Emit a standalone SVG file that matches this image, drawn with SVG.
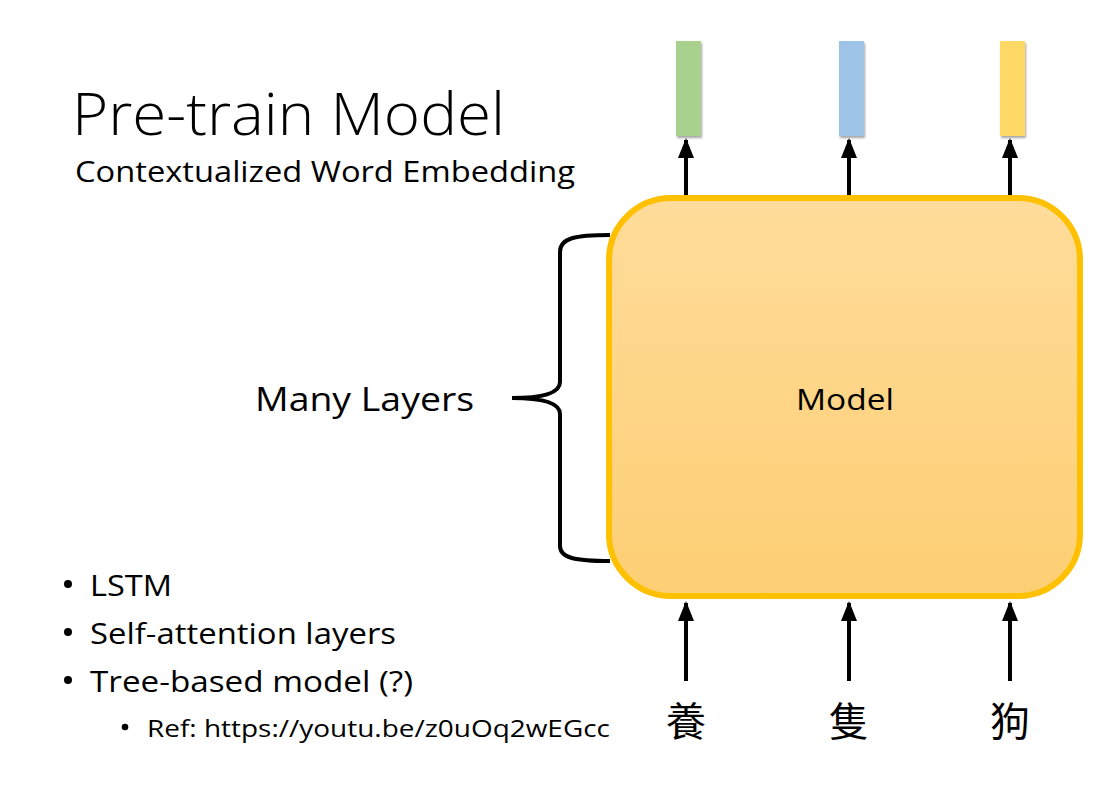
<svg xmlns="http://www.w3.org/2000/svg" width="1097" height="801" viewBox="0 0 1097 801">
<defs>
<linearGradient id="g" x1="0" y1="0" x2="0" y2="1"><stop offset="0" stop-color="#FFDC9A"/><stop offset="1" stop-color="#FDCF74"/></linearGradient>
<marker id="ah" markerWidth="5" markerHeight="4" refX="4.5" refY="2" orient="auto" markerUnits="strokeWidth"><path d="M0,0 L5,2 L0,4 Z" fill="#000"/></marker>
<filter id="sh" x="-30%" y="-10%" width="160%" height="130%"><feDropShadow dx="1" dy="2" stdDeviation="1.2" flood-color="#000" flood-opacity="0.35"/></filter>
</defs>
<style>
text{font-family:"Open Sans","Noto Sans","Liberation Sans",sans-serif;fill:#000}
.cjk{font-family:"Noto Sans CJK TC","Noto Sans CJK SC",sans-serif}
.arr{stroke:#000;stroke-width:4;fill:none;marker-end:url(#ah)}
</style>
<rect width="1097" height="801" fill="#fff"/>
<text x="72" y="135" font-size="58" font-weight="300" textLength="433" lengthAdjust="spacingAndGlyphs">Pre-train Model</text>
<text x="75" y="182" font-size="29" textLength="500" lengthAdjust="spacingAndGlyphs">Contextualized Word Embedding</text>

<g id="model"><rect x="609" y="198" width="471" height="398" rx="62" fill="url(#g)" stroke="#FFC000" stroke-width="6"/>
<text x="845" y="410" font-size="30" text-anchor="middle" textLength="98" lengthAdjust="spacingAndGlyphs">Model</text></g>

<g id="out1"><rect x="676" y="41" width="25" height="95" fill="#A9D18E" filter="url(#sh)"/></g>
<g id="out2"><rect x="839" y="41" width="25" height="95" fill="#9DC3E6" filter="url(#sh)"/></g>
<g id="out3"><rect x="1000" y="41" width="25" height="95" fill="#FFD966" filter="url(#sh)"/></g>

<g id="connectors">
<line class="arr" x1="686" y1="195" x2="686" y2="140"/>
<line class="arr" x1="849" y1="195" x2="849" y2="140"/>
<line class="arr" x1="1010" y1="195" x2="1010" y2="140"/>
<line class="arr" x1="686" y1="681" x2="686" y2="603"/>
<line class="arr" x1="849" y1="681" x2="849" y2="603"/>
<line class="arr" x1="1010" y1="681" x2="1010" y2="603"/>
<path d="M610,235 C575,235 560,238 560,252 L560,382 C560,392 545,398 512,398 C545,398 560,404 560,414 L560,546 C560,558 575,561 610,561" stroke="#000" stroke-width="4" fill="none"/>
</g>

<g id="in1"><text class="cjk" x="686" y="736" font-size="40" text-anchor="middle">養</text></g>
<g id="in2"><text class="cjk" x="849" y="736" font-size="40" text-anchor="middle">隻</text></g>
<g id="in3"><text class="cjk" x="1010" y="736" font-size="40" text-anchor="middle">狗</text></g>

<g id="layers"><text x="255" y="411" font-size="33" textLength="219" lengthAdjust="spacingAndGlyphs">Many Layers</text></g>

<g id="bullets">
<circle cx="68" cy="584" r="4"/><text x="90" y="596" font-size="29" textLength="82" lengthAdjust="spacingAndGlyphs">LSTM</text>
<circle cx="68" cy="632" r="4"/><text x="90" y="644" font-size="29" textLength="306" lengthAdjust="spacingAndGlyphs">Self-attention layers</text>
<circle cx="68" cy="680" r="4"/><text x="90" y="692" font-size="29" textLength="323" lengthAdjust="spacingAndGlyphs">Tree-based model (?)</text>
<circle cx="125" cy="727" r="3.3"/><text x="147" y="737" font-size="24" textLength="463" lengthAdjust="spacingAndGlyphs">Ref: https://youtu.be/z0uOq2wEGcc</text>
</g>
</svg>
